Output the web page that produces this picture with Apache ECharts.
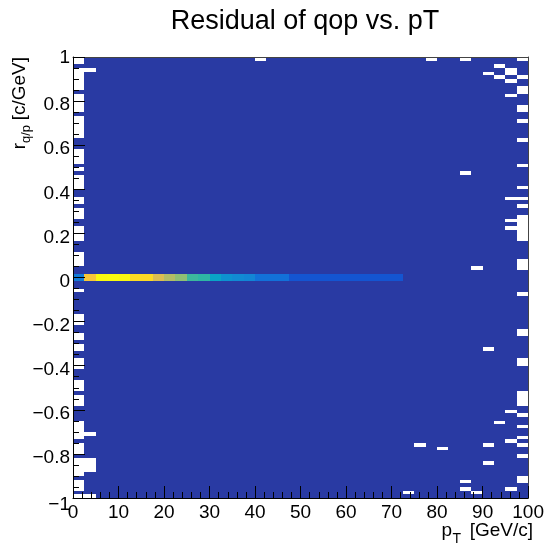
<!DOCTYPE html>
<html>
<head>
<meta charset="utf-8">
<script src="https://cdn.jsdelivr.net/npm/echarts@6/dist/echarts.min.js"></script>
<style>
  html, body { margin: 0; padding: 0; background: #ffffff; }
  #chart { width: 547px; height: 545px; }
</style>
</head>
<body>
<div id="chart"></div>
<script>
// Histogram definition: 40 bins in pT over [0,100] GeV/c, 120 bins in r over [-1,1]
const ptRange = [0, 100];
const rRange = [-1, 1];
const nPtBins = 40;
const nRBins = 120;

// Entries in each populated bin away from the core band
const baseCount = 1;

// Core band: the two r bins on either side of zero, entries per pT bin (pT bin 0..28)
const bandRBins = [59, 60];
const bandCounts = [7, 4700, 19000, 20000, 18000, 9000, 8500, 2000, 900, 480,
                    140, 115, 35, 16, 12, 10, 5, 5, 5, 2,
                    2, 2, 2, 2, 2, 2, 2, 2, 2];

// Empty bins as [pT bin, first r bin, last r bin] (r bins counted from the bottom)
const emptyRuns = [
  [0, 118, 119], [0, 111, 116], [0, 105, 109], [0, 98, 103], [0, 91, 94],
  [0, 89, 89], [0, 84, 87], [0, 80, 81], [0, 76, 78], [0, 70, 73],
  [0, 63, 66], [0, 56, 56], [0, 47, 49], [0, 43, 44], [0, 40, 41],
  [0, 35, 37], [0, 29, 31], [0, 25, 27], [0, 16, 20], [0, 12, 14],
  [0, 6, 10], [0, 2, 4], [0, 0, 0],
  [1, 116, 116], [1, 17, 17], [1, 7, 10], [1, 0, 0],
  [16, 119, 119],
  [29, 1, 1],
  [30, 14, 14],
  [31, 119, 119],
  [32, 13, 13],
  [34, 119, 119], [34, 88, 88], [34, 4, 4], [34, 2, 2],
  [35, 62, 62], [35, 1, 1],
  [36, 115, 115], [36, 40, 40], [36, 14, 14], [36, 9, 9],
  [37, 117, 117], [37, 114, 114], [37, 20, 20],
  [38, 115, 116], [38, 113, 113], [38, 109, 109], [38, 81, 81], [38, 75, 75],
  [38, 73, 73], [38, 23, 23], [38, 15, 15], [38, 2, 2],
  [39, 119, 119], [39, 114, 114], [39, 110, 111], [39, 105, 106], [39, 102, 102],
  [39, 97, 97], [39, 90, 90], [39, 84, 84], [39, 81, 81], [39, 79, 79],
  [39, 70, 76], [39, 62, 64], [39, 55, 55], [39, 44, 45], [39, 36, 37],
  [39, 25, 28], [39, 22, 22], [39, 19, 19], [39, 16, 16], [39, 14, 14],
  [39, 11, 11], [39, 4, 5]
];

// Colour scale (logarithmic z) and the bird palette
const zRange = [0.66, 20000];
const birdPalette = ['#352a87', '#0f5cdd', '#1481d6', '#06a4ca', '#2eb7a4',
                     '#87bf77', '#d1bb59', '#fec832', '#f9fb0e'];

// Axis ticks
const ptTicks = { interval: 10, minor: 5 };
const rTicks = { interval: 0.2, minor: 4 };

const FONT = 'Liberation Sans, Arial, Helvetica, sans-serif';
const ptW = (ptRange[1] - ptRange[0]) / nPtBins;
const rW = (rRange[1] - rRange[0]) / nRBins;
const edge = v => +v.toFixed(6);   // keeps shared bin edges bit-identical

// Build the cell table from the histogram description
const emptySet = new Set();
emptyRuns.forEach(([ix, a, b]) => { for (let iy = a; iy <= b; iy++) emptySet.add(ix + ':' + iy); });
const cells = [];
for (let ix = 0; ix < nPtBins; ix++) {
  for (let iy = 0; iy < nRBins; iy++) {
    if (emptySet.has(ix + ':' + iy)) continue;
    let count = baseCount;
    if (bandRBins.indexOf(iy) >= 0 && ix < bandCounts.length) count = bandCounts[ix];
    cells.push([edge(ptRange[0] + ix * ptW), edge(rRange[0] + iy * rW), count, Math.log10(count)]);
  }
}

function fmtR(v) {
  const s = (Math.round(v * 10) / 10).toString().replace('-', '\u2212');
  if (v >= 0.999) return '{hi|' + s + '}';
  if (v <= -0.999) return '{lo|' + s + '}';
  return '{n|' + s + '}';
}

const chart = echarts.init(document.getElementById('chart'), null, { renderer: 'canvas' });
const rot = Math.PI / 2;
chart.setOption({
  animation: false,
  backgroundColor: '#ffffff',
  textStyle: { fontFamily: FONT },
  grid: { left: 73, top: 57, width: 460, height: 441, containLabel: false },
  visualMap: {
    show: false, type: 'continuous', seriesIndex: 0, dimension: 3,
    min: Math.log10(zRange[0]), max: Math.log10(zRange[1]),
    inRange: { color: birdPalette }
  },
  xAxis: [{
    type: 'value', min: ptRange[0], max: ptRange[1], interval: ptTicks.interval, z: 10,
    axisLine: { show: true, onZero: false, lineStyle: { color: '#000', width: 1 } },
    axisTick: { show: true, inside: true, length: 12, lineStyle: { color: '#000', width: 1 } },
    minorTick: { show: true, splitNumber: ptTicks.minor, length: 6, lineStyle: { color: '#000', width: 1 } },
    splitLine: { show: false },
    axisLabel: { fontSize: 19, color: '#000', fontFamily: FONT, margin: 5 }
  }, {
    type: 'value', position: 'top', min: ptRange[0], max: ptRange[1], z: 10,
    axisLine: { show: true, onZero: false, lineStyle: { color: '#444', width: 1 } },
    axisTick: { show: false }, axisLabel: { show: false }, splitLine: { show: false }
  }],
  yAxis: [{
    type: 'value', min: rRange[0], max: rRange[1], interval: rTicks.interval, z: 10,
    axisLine: { show: true, onZero: false, lineStyle: { color: '#000', width: 1 } },
    axisTick: { show: true, inside: true, length: 12, lineStyle: { color: '#000', width: 1 } },
    minorTick: { show: true, splitNumber: rTicks.minor, length: 6, lineStyle: { color: '#000', width: 1 } },
    splitLine: { show: false },
    axisLabel: {
      fontSize: 19, color: '#000', fontFamily: FONT, margin: 3, formatter: fmtR,
      rich: {
        n: { fontSize: 19, padding: [8, 0, 0, 0] },
        hi: { fontSize: 19, padding: [2, 0, 0, 0] },
        lo: { fontSize: 19, padding: [13, 0, 0, 0] }
      }
    }
  }, {
    type: 'value', position: 'right', min: rRange[0], max: rRange[1], z: 10,
    axisLine: { show: true, onZero: false, lineStyle: { color: '#444', width: 1 } },
    axisTick: { show: false }, axisLabel: { show: false }, splitLine: { show: false }
  }],
  series: [{
    type: 'custom',
    coordinateSystem: 'cartesian2d',
    xAxisIndex: 0, yAxisIndex: 0,
    silent: true, progressive: 0,
    dimensions: ['pt', 'r', 'entries', 'logEntries'],
    encode: { x: 0, y: 1 },
    data: cells,
    renderItem: function (params, api) {
      const x0 = api.value(0), y0 = api.value(1);
      const a = api.coord([x0, edge(y0 + rW)]);
      const b = api.coord([edge(x0 + ptW), y0]);
      const L = Math.round(a[0]), T = Math.round(a[1]);
      const R = Math.round(b[0]), B = Math.round(b[1]);
      return { type: 'rect', shape: { x: L, y: T, width: R - L, height: B - T },
               style: { fill: api.visual('color') } };
    }
  }],
  graphic: [
    { type: 'text', x: 305, y: 22, style: { text: 'Residual of qop vs. pT', fontSize: 27, fontFamily: FONT, fill: '#000', align: 'center', verticalAlign: 'middle' } },
    { type: 'text', x: 533, y: 531, style: { text: '[GeV/c]', fontSize: 19, fontFamily: FONT, fill: '#000', align: 'right', verticalAlign: 'middle' } },
    { type: 'text', x: 461, y: 539, style: { text: 'T', fontSize: 14, fontFamily: FONT, fill: '#000', align: 'right', verticalAlign: 'middle' } },
    { type: 'text', x: 452, y: 531, style: { text: 'p', fontSize: 19, fontFamily: FONT, fill: '#000', align: 'right', verticalAlign: 'middle' } },
    { type: 'text', x: 20, y: 57, rotation: rot, style: { text: '[c/GeV]', fontSize: 19, fontFamily: FONT, fill: '#000', align: 'right', verticalAlign: 'middle' } },
    { type: 'text', x: 26, y: 125, rotation: rot, style: { text: 'q/p', fontSize: 13, fontFamily: FONT, fill: '#000', align: 'right', verticalAlign: 'middle' } },
    { type: 'text', x: 20, y: 143, rotation: rot, style: { text: 'r', fontSize: 19, fontFamily: FONT, fill: '#000', align: 'right', verticalAlign: 'middle' } }
  ]
});
</script>
</body>
</html>
